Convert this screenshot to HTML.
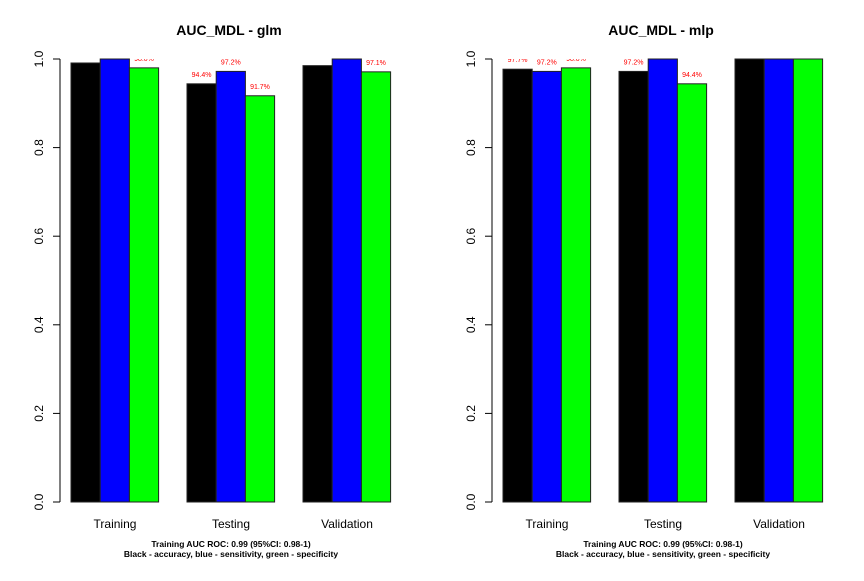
<!DOCTYPE html>
<html><head><meta charset="utf-8"><style>
body{margin:0;background:#fff;font-family:"Liberation Sans",sans-serif}
svg text{font-family:"Liberation Sans",sans-serif}
</style></head><body>
<svg id="c" width="864" height="576" xmlns="http://www.w3.org/2000/svg">
<defs><clipPath id="clip"><rect x="0" y="59" width="864" height="520"/></clipPath></defs>
</svg>
<script>
const categories=["Training","Testing","Validation"];
const glmAcc=[0.991,0.944,0.985];
const glmSens=[1.0,0.972,1.0];
const glmSpec=[0.980,0.917,0.971];
const glmLabels=[["","","98.0%"],["94.4%","97.2%","91.7%"],["","","97.1%"]];
const mlpAcc=[0.977,0.972,1.0];
const mlpSens=[0.972,1.0,1.0];
const mlpSpec=[0.980,0.944,1.0];
const mlpLabels=[["97.7%","97.2%","98.0%"],["97.2%","","94.4%"],["","",""]];
const yTicks=[0,0.2,0.4,0.6,0.8,1.0];
const colors=["#000000","#0000ff","#00ff00"];
const svg=document.getElementById('c');
const NS="http://www.w3.org/2000/svg";
function mk(tag,attrs,parent){const e=document.createElementNS(NS,tag);for(const k in attrs)e.setAttribute(k,attrs[k]);(parent||svg).appendChild(e);return e;}
function panel(ox,title,series,labels,key){
  const g=mk('g',{});
  
  
  const y=v=>502-v*443;
  const axisX=ox;
  const ax=mk('line',{x1:axisX,x2:axisX,y1:y(0),y2:y(1),stroke:'#000'},g);
  
  
  yTicks.forEach(t=>{
    mk('line',{x1:axisX-7,x2:axisX,y1:y(t),y2:y(t),stroke:'#000'},g);
    const tx=mk('text',{x:axisX-20,y:y(t),'font-size':12,'text-anchor':'middle',transform:`rotate(-90 ${axisX-20} ${y(t)})`,'dominant-baseline':'middle'},g);
    tx.textContent=t.toFixed(1);
    
    
  });
  const t=mk('text',{x:ox+169,y:35,'font-size':14,'font-weight':'bold','text-anchor':'middle'},g);
  t.textContent=title;
  
  
  categories.forEach((c,i)=>{
    const gx=ox+11+i*116;
    series.forEach((s,j)=>{
      const x=gx+j*29.2;
      const r=mk('rect',{x:x,y:y(s[i]),width:29.2,height:y(0)-y(s[i]),fill:colors[j],stroke:'#222','stroke-width':1},g);
      
      
      if(labels[i][j]){
        const l=mk('text',{x:x+14.6,y:y(s[i])-7,'font-size':7,fill:'#ff0000','text-anchor':'middle','clip-path':'url(#clip)'},g);
        l.textContent=labels[i][j];
        
        
      }
    });
    const cl=mk('text',{x:gx+44,y:528,'font-size':12,'text-anchor':'middle'},g);
    cl.textContent=c;
    
    
  });
  const f1=mk('text',{x:ox+171,y:547,'font-size':8.5,'font-weight':'bold','text-anchor':'middle'},g);
  f1.textContent="Training AUC ROC: 0.99 (95%CI: 0.98-1)";
  
  
  const f2=mk('text',{x:ox+171,y:557,'font-size':8.5,'font-weight':'bold','text-anchor':'middle'},g);
  f2.textContent="Black - accuracy, blue - sensitivity, green - specificity";
  
  
}
panel(60,"AUC_MDL - glm",[glmAcc,glmSens,glmSpec],glmLabels,'glm');
panel(492,"AUC_MDL - mlp",[mlpAcc,mlpSens,mlpSpec],mlpLabels,'mlp');
</script>
</body></html>
